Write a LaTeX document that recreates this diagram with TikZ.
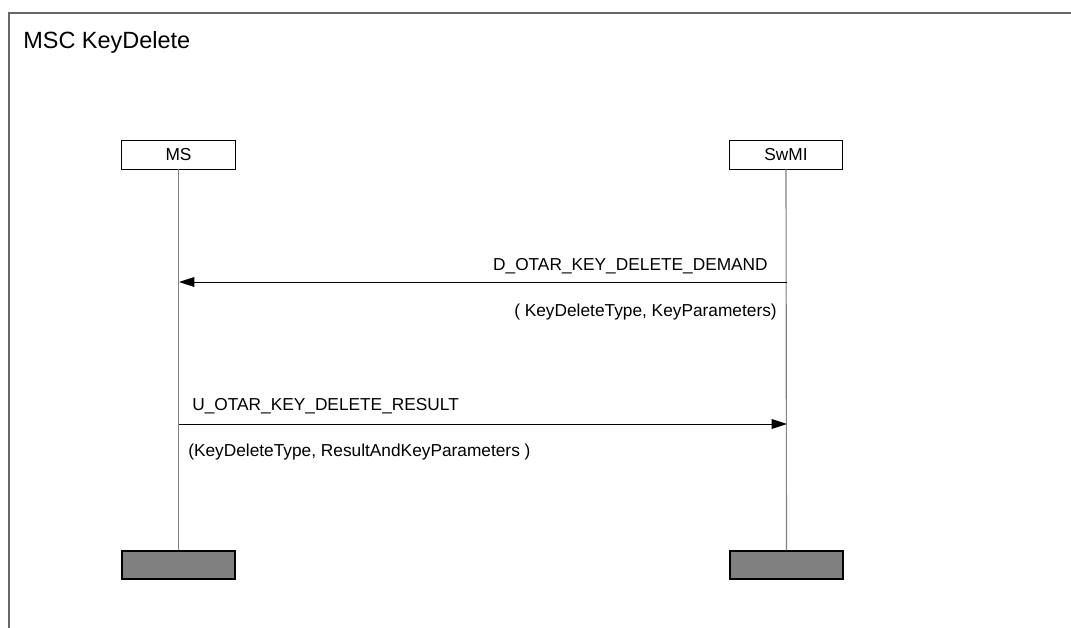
\documentclass[tikz,border=0pt]{standalone}
\usepackage{fontspec}
\setmainfont{Liberation Sans}
\usetikzlibrary{arrows.meta}
\tikzset{
  inst/.style={draw,line width=.7pt,minimum width=2.83cm,minimum height=.7cm,inner sep=0pt,font=\fontsize{12.3}{14}\selectfont},
  instend/.style={draw,line width=.9pt,fill=black!50,minimum width=2.83cm,minimum height=.7cm,inner sep=0pt},
  life/.style={black!50,line width=.8pt},
  msg/.style={line width=.7pt,-{Triangle[length=11pt,width=7pt]}},
  lbl/.style={inner sep=0pt,font=\fontsize{12.3}{14}\selectfont}
}
\begin{document}
\begin{tikzpicture}[x=.025cm,y=-.025cm]
  \useasboundingbox (0,0) rectangle (1071,628);
  % frame
  \draw[black!60,line width=.9pt] (1071,13) -- (9,13) -- (9,628);
  \node[anchor=base west,inner sep=0pt,font=\fontsize{16.7}{19}\selectfont] (title) at (23,49) {MSC KeyDelete};
  % instances
  \node[inst] (ms) at (178.5,155) {MS};
  \node[inst] (swmi) at (786,155) {SwMI};
  \node[instend] (msend) at (178.5,565) {};
  \node[instend] (swmiend) at (786.5,565) {};
  \draw[life] (ms.south) -- (msend.north);
  \draw[life] (swmi.south) -- (swmiend.north);
  \coordinate (ms-a) at (179,282); \coordinate (swmi-a) at (787,282);
  \coordinate (ms-b) at (179,424); \coordinate (swmi-b) at (787,424);
  % messages
  \draw[msg] (swmi-a) -- (ms-a);
  \node[lbl,anchor=base east] (dname) at (768,271) {D\_OTAR\_KEY\_DELETE\_DEMAND};
  \node[lbl,anchor=base east] (dpar) at (777,317) {( KeyDeleteType, KeyParameters)};
  \draw[msg] (ms-b) -- (swmi-b);
  \node[lbl,anchor=base west] (uname) at (192,411) {U\_OTAR\_KEY\_DELETE\_RESULT};
  \node[lbl,anchor=base west] (upar) at (188,457) {(KeyDeleteType, ResultAndKeyParameters )};
\end{tikzpicture}
\end{document}
